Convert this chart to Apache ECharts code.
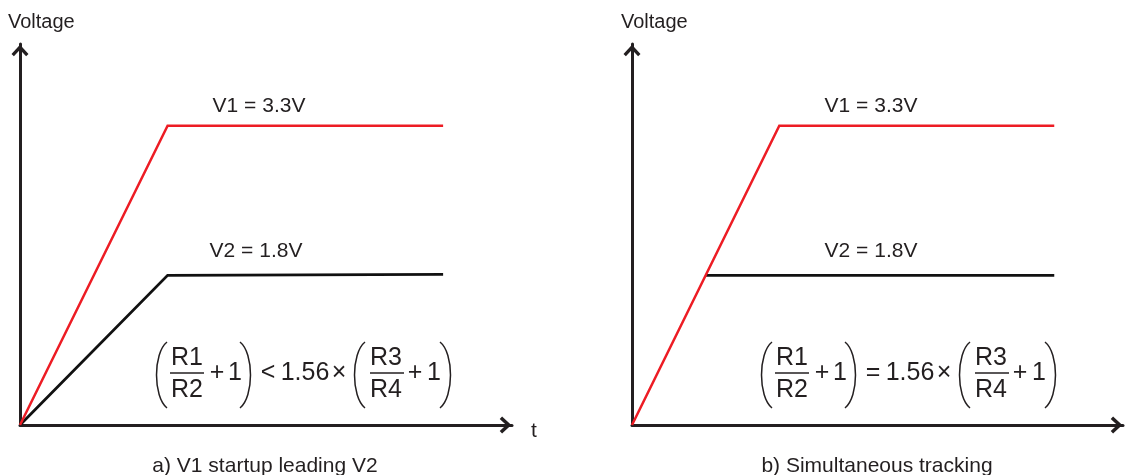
<!DOCTYPE html>
<html>
<head>
<meta charset="utf-8">
<title>V1 / V2 startup</title>
<script src="https://cdn.jsdelivr.net/npm/echarts@6/dist/echarts.min.js"></script>
<style>
    html, body { margin: 0; padding: 0; background: #fff; }
    #chart_startup { width: 1143px; height: 475px; }
</style>
</head>
<body>
<div id="chart_startup"></div>
<script>
// drawing units (schematic scale)
var timeA = [0, 3, 8.6];
var v1A = [0, 3.3, 3.3];
var v2A = [0, 1.65, 1.66];

var timeB = [0, 3, 8.6];
var v1B = [0, 3.3, 3.3];
var timeB2 = [1.5, 8.6];
var v2B = [1.65, 1.65];

var levelLabels = ['V1 = 3.3V', 'V2 = 1.8V'];
var captions = ['a) V1 startup leading V2', 'b) Simultaneous tracking'];
var relations = ['<', '='];
var yName = 'Voltage';
var xName = 't';

var FONT = '"Liberation Sans", Arial, sans-serif';
var INK = '#231f20';
var RED = '#ed1c24';

function pairs(xs, ys) {
    var out = [];
    for (var i = 0; i < xs.length; i++) {
        out.push([xs[i], ys[i]]);
    }
    return out;
}

function txt(x, y, s, size, align) {
    return {
        type: 'text',
        x: x, y: y,
        silent: true,
        style: {
            text: s,
            fill: INK,
            font: size + 'px ' + FONT,
            textAlign: align || 'center',
            textVerticalAlign: 'middle'
        }
    };
}

function bar(x1, x2, y) {
    return {
        type: 'line', silent: true,
        shape: {x1: x1, y1: y, x2: x2, y2: y},
        style: {stroke: INK, lineWidth: 1.3}
    };
}

// tall thin bracket, open to the right (left=true) or to the left
function paren(x, yc, left) {
    var w = 12, h = 33;
    var tip = left ? x + w : x;
    var belly = left ? x - 2 : x + w + 2;
    return {
        type: 'bezierCurve', silent: true,
        shape: {
            x1: tip, y1: yc - h, x2: tip, y2: yc + h,
            cpx1: belly, cpy1: yc - h * 0.66,
            cpx2: belly, cpy2: yc + h * 0.66
        },
        style: {stroke: INK, lineWidth: 1.5, fill: null}
    };
}

// (R1/R2 + 1) rel 1.56 x (R3/R4 + 1)
function formula(x0, yc, rel) {
    var f = 25;
    return [
        paren(x0, yc + 2, true),
        txt(x0 + 32, yc - 15, 'R1', f),
        bar(x0 + 15, x0 + 49, yc),
        txt(x0 + 32, yc + 17, 'R2', f),
        txt(x0 + 62, yc, '+', f),
        txt(x0 + 80, yc, '1', f),
        paren(x0 + 85, yc + 2, false),
        txt(x0 + 113, yc, rel, f),
        txt(x0 + 150, yc, '1.56', f),
        txt(x0 + 184, yc, '\u00d7', f),
        paren(x0 + 198, yc + 2, true),
        txt(x0 + 231, yc - 15, 'R3', f),
        bar(x0 + 215, x0 + 249, yc),
        txt(x0 + 231, yc + 17, 'R4', f),
        txt(x0 + 260, yc, '+', f),
        txt(x0 + 279, yc, '1', f),
        paren(x0 + 285, yc + 2, false)
    ];
}

function axisLine() {
    return {
        show: true,
        onZero: false,
        // open chevron head
        symbol: ['none', 'path://M50,0 L100,54 L86,68 L50,30 L14,68 L0,54 Z'],
        symbolSize: [17, 13],
        symbolOffset: [0, -6.5],
        lineStyle: {color: INK, width: 3}
    };
}

function xAx(i) {
    return {
        type: 'value', gridIndex: i, min: 0, max: 10,
        axisLine: axisLine(),
        axisTick: {show: false},
        axisLabel: {show: false},
        splitLine: {show: false}
    };
}

function yAx(i) {
    return {
        type: 'value', gridIndex: i, min: 0, max: 4.2,
        axisLine: axisLine(),
        axisTick: {show: false},
        axisLabel: {show: false},
        splitLine: {show: false}
    };
}

function lineSeries(i, data, color, width, z) {
    return {
        type: 'line',
        xAxisIndex: i, yAxisIndex: i,
        data: data,
        symbol: 'none',
        silent: true,
        z: z,
        lineStyle: {color: color, width: width, cap: 'butt', join: 'miter'}
    };
}

function initStartup() {
    var myChart = echarts.init(document.getElementById('chart_startup'));

    var graphics = [
        txt(8, 22, yName, 20, 'left'),
        txt(621, 22, yName, 20, 'left'),
        txt(534, 431, xName, 21),
        txt(259, 106, levelLabels[0], 21),
        txt(256, 251, levelLabels[1], 21),
        txt(871, 106, levelLabels[0], 21),
        txt(871, 251, levelLabels[1], 21),
        txt(265, 466, captions[0], 21),
        txt(877, 466, captions[1], 21)
    ];
    graphics = graphics.concat(formula(155, 373, relations[0]));
    graphics = graphics.concat(formula(760, 373, relations[1]));

    var option = {
        animation: false,
        backgroundColor: '#fff',
        grid: [
            {left: 20, top: 44, width: 492, height: 381},
            {left: 632, top: 44, width: 491, height: 381}
        ],
        xAxis: [xAx(0), xAx(1)],
        yAxis: [yAx(0), yAx(1)],
        series: [
            lineSeries(0, pairs(timeA, v2A), '#111', 2.8, 2),
            lineSeries(0, pairs(timeA, v1A), RED, 2.5, 3),
            lineSeries(1, pairs(timeB2, v2B), '#111', 2.8, 2),
            lineSeries(1, pairs(timeB, v1B), RED, 2.5, 3)
        ],
        graphic: {elements: graphics}
    };

    myChart.setOption(option);
}

initStartup();
</script>
</body>
</html>
